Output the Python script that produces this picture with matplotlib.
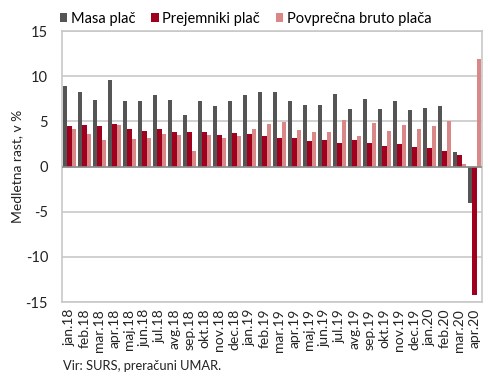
import numpy as np
import matplotlib.pyplot as plt

plt.rcParams['font.family'] = ['Lato', 'DejaVu Sans']

months = ['jan.18', 'feb.18', 'mar.18', 'apr.18', 'maj.18', 'jun.18', 'jul.18',
          'avg.18', 'sep.18', 'okt.18', 'nov.18', 'dec.18', 'jan.19', 'feb.19',
          'mar.19', 'apr.19', 'maj.19', 'jun.19', 'jul.19', 'avg.19', 'sep.19',
          'okt.19', 'nov.19', 'dec.19', 'jan.20', 'feb.20', 'mar.20', 'apr.20']
masa = [8.9, 8.3, 7.4, 9.6, 7.3, 7.3, 7.95, 7.4, 5.65, 7.3, 6.7, 7.25, 7.9, 8.2,
        8.3, 7.25, 6.85, 6.85, 8.05, 6.35, 7.45, 6.35, 7.25, 6.25, 6.5, 6.75, 1.6, -4.0]
prejemniki = [4.5, 4.6, 4.45, 4.75, 4.2, 3.95, 4.2, 3.85, 3.8, 3.8, 3.45, 3.75, 3.55,
              3.35, 3.2, 3.2, 2.8, 2.9, 2.65, 2.9, 2.55, 2.3, 2.5, 2.15, 2.0, 1.75, 1.3, -14.2]
bruto = [4.2, 3.55, 2.9, 4.6, 3.05, 3.2, 3.6, 3.45, 1.75, 3.45, 3.15, 3.4, 4.2, 4.7,
         4.95, 4.0, 3.85, 3.85, 5.2, 3.35, 4.85, 3.9, 4.65, 4.1, 4.45, 5.0, 0.3, 11.9]

series = [('Masa plač', masa, '#555555'),
          ('Prejemniki plač', prejemniki, '#A0001E'),
          ('Povprečna bruto plača', bruto, '#D98787')]

fig = plt.figure(figsize=(4.9, 3.81), dpi=100)
ax = fig.add_axes([0.1265, 0.2073, 0.857, 0.7113])

x = np.arange(len(months))
w = 0.3
for i, (name, vals, col) in enumerate(series):
    ax.bar(x + (i - 1) * w, vals, width=w, color=col, label=name, zorder=3)

ax.set_xlim(-0.5, len(months) - 0.5)
ax.set_ylim(-15, 15)
ax.set_yticks([-15, -10, -5, 0, 5, 10, 15])
ax.set_yticklabels(['-15', '-10', '-5', '0', '5', '10', '15'])
ax.yaxis.grid(True, color='#c8c8c8', linewidth=1.2, zorder=0)
ax.axhline(0, color='#8c8c8c', linewidth=1.2, zorder=4)
ax.set_xticks(x)
ax.set_xticklabels(months, rotation=90)
ax.tick_params(axis='x', length=0, labelsize=10, colors='#222222', pad=5)
ax.tick_params(axis='y', length=0, labelsize=10.5, colors='#222222', pad=10)
for s in ax.spines.values():
    s.set_color('#c8c8c8')
    s.set_linewidth(1.2)

ax.set_ylabel('Medletna rast, v %', fontsize=10, color='#222222', labelpad=2)
ax.legend(loc='lower left', bbox_to_anchor=(-0.005, 1.02), ncol=3, frameon=False,
          fontsize=10.5, handlelength=0.5, handleheight=0.5, handletextpad=0.25,
          columnspacing=1.1, borderaxespad=0, borderpad=0)
fig.text(0.128, 0.028, 'Vir: SURS, preračuni UMAR.', fontsize=9.3, color='#222222',
         va='baseline')

fig.savefig('out.png', dpi=100)
